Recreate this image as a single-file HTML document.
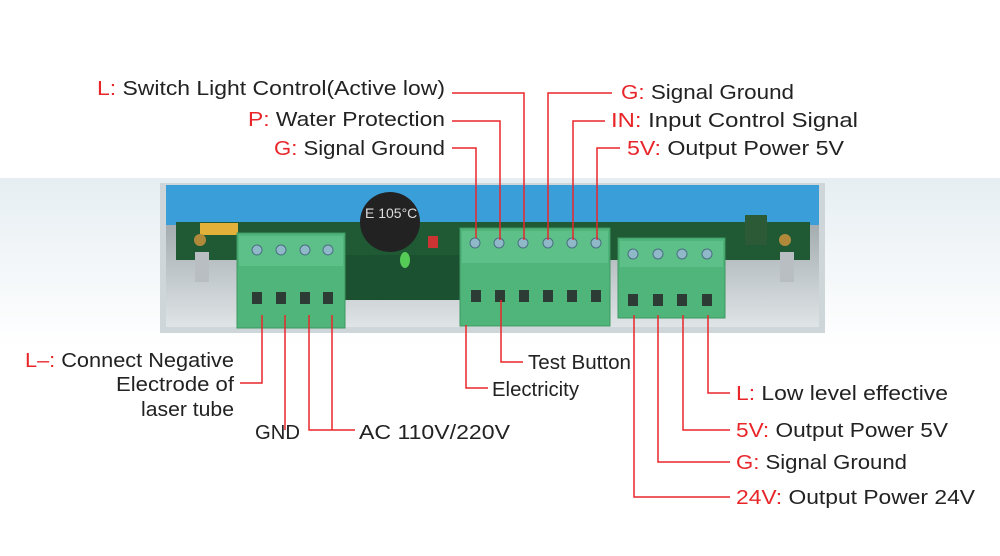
<!DOCTYPE html>
<html><head><meta charset="utf-8"><style>
html,body{margin:0;padding:0;background:#fff;}
svg{display:block;}
text{font-family:"Liberation Sans",sans-serif;font-size:20px;fill:#222;}
.r{fill:#e8262a;}
</style></head><body>
<svg width="1000" height="556" viewBox="0 0 1000 556">
<defs>
<linearGradient id="bg" x1="0" y1="0" x2="0" y2="1"><stop offset="0" stop-color="#e6eef2"/><stop offset="1" stop-color="#fff"/></linearGradient>
<linearGradient id="met" x1="0" y1="0" x2="0" y2="1"><stop offset="0" stop-color="#8d979c"/><stop offset="1" stop-color="#dfe4e6"/></linearGradient>
</defs>
<rect x="0" y="178" width="1000" height="170" fill="url(#bg)"/>
<rect x="160" y="183" width="665" height="150" fill="#cfd6da"/>
<rect x="166" y="185" width="653" height="142" fill="url(#met)"/>
<rect x="166" y="185" width="653" height="40" fill="#3a9fd8"/>
<rect x="176" y="222" width="634" height="38" fill="#1f5a35"/>
<rect x="345" y="255" width="120" height="45" fill="#1b5030"/>
<rect x="200" y="223" width="38" height="12" fill="#e3b13a"/>
<circle cx="390" cy="222" r="30" fill="#222"/>
<text x="365" y="218" style="font-size:14px;fill:#ddd">E 105°C</text>
<rect x="428" y="236" width="10" height="12" fill="#c33"/>
<ellipse cx="405" cy="260" rx="5" ry="8" fill="#5c5"/>
<circle cx="200" cy="240" r="6" fill="#b08a3a"/>
<circle cx="785" cy="240" r="6" fill="#b08a3a"/>
<rect x="195" y="252" width="14" height="30" fill="#b8bec2"/>
<rect x="780" y="252" width="14" height="30" fill="#b8bec2"/>
<rect x="745" y="215" width="22" height="30" fill="#2c5a36"/>
<g fill="#4fb57a" stroke="#3d9863" stroke-width="1">
<rect x="237" y="233" width="108" height="95"/>
<rect x="460" y="228" width="150" height="98"/>
<rect x="618" y="238" width="107" height="80"/>
</g>
<g fill="#5cc088">
<rect x="239" y="236" width="104" height="30"/>
<rect x="462" y="231" width="146" height="32"/>
<rect x="620" y="241" width="103" height="26"/>
</g>
<g fill="#8fb8c8" stroke="#4a6f80">
<circle cx="257" cy="250" r="5"/><circle cx="281" cy="250" r="5"/><circle cx="305" cy="250" r="5"/><circle cx="328" cy="250" r="5"/>
<circle cx="475" cy="243" r="5"/><circle cx="499" cy="243" r="5"/><circle cx="523" cy="243" r="5"/><circle cx="548" cy="243" r="5"/><circle cx="572" cy="243" r="5"/><circle cx="596" cy="243" r="5"/>
<circle cx="633" cy="254" r="5"/><circle cx="658" cy="254" r="5"/><circle cx="682" cy="254" r="5"/><circle cx="707" cy="254" r="5"/>
</g>
<g fill="#2c3b33">
<rect x="252" y="292" width="10" height="12"/><rect x="276" y="292" width="10" height="12"/><rect x="300" y="292" width="10" height="12"/><rect x="323" y="292" width="10" height="12"/>
<rect x="471" y="290" width="10" height="12"/><rect x="495" y="290" width="10" height="12"/><rect x="519" y="290" width="10" height="12"/><rect x="543" y="290" width="10" height="12"/><rect x="567" y="290" width="10" height="12"/><rect x="591" y="290" width="10" height="12"/>
<rect x="628" y="294" width="10" height="12"/><rect x="653" y="294" width="10" height="12"/><rect x="677" y="294" width="10" height="12"/><rect x="702" y="294" width="10" height="12"/>
</g>
<g stroke="#e8262a" stroke-width="1.5" fill="none">
<polyline points="452,93 524,93 524,240"/>
<polyline points="452,121 500,121 500,240"/>
<polyline points="452,148 476,148 476,238"/>
<polyline points="612,93 548,93 548,240"/>
<polyline points="605,121 573,121 573,240"/>
<polyline points="620,148 597,148 597,240"/>
<polyline points="262,315 262,383 240,383"/>
<polyline points="285,315 285,430"/>
<polyline points="309,315 309,430 355,430"/>
<polyline points="332,315 332,430"/>
<polyline points="466,325 466,388 488,388"/>
<polyline points="501,300 501,362 523,362"/>
<polyline points="708,315 708,393 730,393"/>
<polyline points="683,315 683,430 730,430"/>
<polyline points="658,315 658,462 730,462"/>
<polyline points="634,315 634,497 730,497"/>
</g>
<text x="97" y="95" textLength="348" lengthAdjust="spacingAndGlyphs"><tspan class="r">L:</tspan> Switch Light Control(Active low)</text>
<text x="248" y="126" textLength="197" lengthAdjust="spacingAndGlyphs"><tspan class="r">P:</tspan> Water Protection</text>
<text x="274" y="155" textLength="171" lengthAdjust="spacingAndGlyphs"><tspan class="r">G:</tspan> Signal Ground</text>
<text x="621" y="99" textLength="173" lengthAdjust="spacingAndGlyphs"><tspan class="r">G:</tspan> Signal Ground</text>
<text x="611" y="127" textLength="247" lengthAdjust="spacingAndGlyphs"><tspan class="r">IN:</tspan> Input Control Signal</text>
<text x="627" y="155" textLength="217" lengthAdjust="spacingAndGlyphs"><tspan class="r">5V:</tspan> Output Power 5V</text>
<text x="25" y="367" textLength="209" lengthAdjust="spacingAndGlyphs"><tspan class="r">L–:</tspan> Connect Negative</text>
<text x="116" y="391" textLength="118" lengthAdjust="spacingAndGlyphs">Electrode of</text>
<text x="141" y="416" textLength="93" lengthAdjust="spacingAndGlyphs">laser tube</text>
<text x="255" y="439" textLength="45" lengthAdjust="spacingAndGlyphs">GND</text>
<text x="359" y="439" textLength="151" lengthAdjust="spacingAndGlyphs">AC 110V/220V</text>
<text x="528" y="369" textLength="103" lengthAdjust="spacingAndGlyphs">Test Button</text>
<text x="492" y="396" textLength="87" lengthAdjust="spacingAndGlyphs">Electricity</text>
<text x="736" y="400" textLength="212" lengthAdjust="spacingAndGlyphs"><tspan class="r">L:</tspan> Low level effective</text>
<text x="736" y="437" textLength="212" lengthAdjust="spacingAndGlyphs"><tspan class="r">5V:</tspan> Output Power 5V</text>
<text x="736" y="469" textLength="171" lengthAdjust="spacingAndGlyphs"><tspan class="r">G:</tspan> Signal Ground</text>
<text x="736" y="504" textLength="239" lengthAdjust="spacingAndGlyphs"><tspan class="r">24V:</tspan> Output Power 24V</text>
</svg>
</body></html>
